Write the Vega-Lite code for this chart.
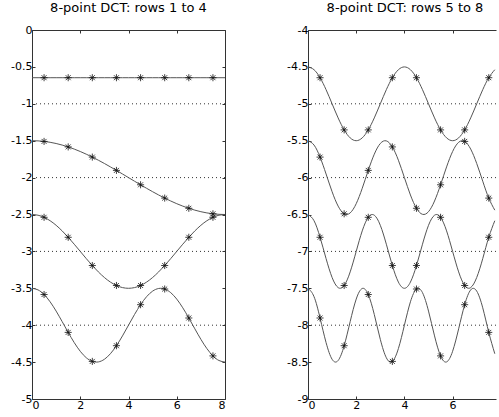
{
  "$schema": "https://vega.github.io/schema/vega-lite/v6.json",
  "autosize": {"type": "pad"},
  "padding": {"left": 10, "top": 1, "right": 0, "bottom": 0},
  "background": "white",
  "config": {
    "view": {"stroke": "#333333", "strokeWidth": 1},
    "font": "DejaVu Sans",
    "axis": {"labelFont": "DejaVu Sans", "labelFontSize": 11, "labelColor": "#000000", "domain": false, "domainColor": "#333333", "grid": false, "tickColor": "#333333", "tickSize": -3, "labelPadding": 3, "title": null, "minExtent": 0},
    "axisY": {"minExtent": 0},
    "axisX": {"minExtent": 0},
    "title": {"font": "DejaVu Sans", "fontSize": 13, "fontWeight": "normal", "color": "#000000", "offset": 9, "anchor": "middle", "frame": "group"},
    "concat": {"spacing": 83}
  },
  "bounds": "flush",
  "datasets": {
    "dct": [
      {"x": 0, "r1": -0.6464, "r2": -1.5, "r3": -2.5, "r4": -3.5, "r5": -4.5, "r6": -5.5, "r7": -6.5, "r8": -7.5},
      {"x": 0.25, "r1": -0.6464, "r2": -1.5024, "r3": -2.5096, "r4": -3.5215, "r5": -4.5381, "r6": -5.559, "r7": -6.5843, "r8": -7.6135},
      {"x": 0.5, "r1": -0.6464, "r2": -1.5096, "r3": -2.5381, "r4": -3.5843, "r5": -4.6464, "r6": -5.7222, "r7": -6.8087, "r8": -7.9025},
      {"x": 0.75, "r1": -0.6464, "r2": -1.5215, "r3": -2.5843, "r4": -3.6828, "r5": -4.8087, "r6": -5.951, "r7": -7.0975, "r8": -8.2357},
      {"x": 1, "r1": -0.6464, "r2": -1.5381, "r3": -2.6464, "r4": -3.8087, "r5": -5, "r6": -6.1913, "r7": -7.3536, "r8": -8.4619},
      {"x": 1.25, "r1": -0.6464, "r2": -1.559, "r3": -2.7222, "r4": -3.951, "r5": -5.1913, "r6": -6.3865, "r7": -7.4904, "r8": -8.4785},
      {"x": 1.5, "r1": -0.6464, "r2": -1.5843, "r3": -2.8087, "r4": -4.0975, "r5": -5.3536, "r6": -6.4904, "r7": -7.4619, "r8": -8.2778},
      {"x": 1.75, "r1": -0.6464, "r2": -1.6135, "r3": -2.9025, "r4": -4.2357, "r5": -5.4619, "r6": -6.4785, "r7": -7.2778, "r8": -7.951},
      {"x": 2, "r1": -0.6464, "r2": -1.6464, "r3": -3, "r4": -4.3536, "r5": -5.5, "r6": -6.3536, "r7": -7, "r8": -7.6464},
      {"x": 2.25, "r1": -0.6464, "r2": -1.6828, "r3": -3.0975, "r4": -4.441, "r5": -5.4619, "r6": -6.1451, "r7": -6.7222, "r8": -7.5024},
      {"x": 2.5, "r1": -0.6464, "r2": -1.7222, "r3": -3.1913, "r4": -4.4904, "r5": -5.3536, "r6": -5.9025, "r7": -6.5381, "r8": -7.5843},
      {"x": 2.75, "r1": -0.6464, "r2": -1.7643, "r3": -3.2778, "r4": -4.4976, "r5": -5.1913, "r6": -5.6828, "r7": -6.5096, "r8": -7.8549},
      {"x": 3, "r1": -0.6464, "r2": -1.8087, "r3": -3.3536, "r4": -4.4619, "r5": -5, "r6": -5.5381, "r7": -6.6464, "r8": -8.1913},
      {"x": 3.25, "r1": -0.6464, "r2": -1.8549, "r3": -3.4157, "r4": -4.3865, "r5": -4.8087, "r6": -5.5024, "r7": -6.9025, "r8": -8.441},
      {"x": 3.5, "r1": -0.6464, "r2": -1.9025, "r3": -3.4619, "r4": -4.2778, "r5": -4.6464, "r6": -5.5843, "r7": -7.1913, "r8": -8.4904},
      {"x": 3.75, "r1": -0.6464, "r2": -1.951, "r3": -3.4904, "r4": -4.1451, "r5": -4.5381, "r6": -5.7643, "r7": -7.4157, "r8": -8.3172},
      {"x": 4, "r1": -0.6464, "r2": -2, "r3": -3.5, "r4": -4, "r5": -4.5, "r6": -6, "r7": -7.5, "r8": -8},
      {"x": 4.25, "r1": -0.6464, "r2": -2.049, "r3": -3.4904, "r4": -3.8549, "r5": -4.5381, "r6": -6.2357, "r7": -7.4157, "r8": -7.6828},
      {"x": 4.5, "r1": -0.6464, "r2": -2.0975, "r3": -3.4619, "r4": -3.7222, "r5": -4.6464, "r6": -6.4157, "r7": -7.1913, "r8": -7.5096},
      {"x": 4.75, "r1": -0.6464, "r2": -2.1451, "r3": -3.4157, "r4": -3.6135, "r5": -4.8087, "r6": -6.4976, "r7": -6.9025, "r8": -7.559},
      {"x": 5, "r1": -0.6464, "r2": -2.1913, "r3": -3.3536, "r4": -3.5381, "r5": -5, "r6": -6.4619, "r7": -6.6464, "r8": -7.8087},
      {"x": 5.25, "r1": -0.6464, "r2": -2.2357, "r3": -3.2778, "r4": -3.5024, "r5": -5.1913, "r6": -6.3172, "r7": -6.5096, "r8": -8.1451},
      {"x": 5.5, "r1": -0.6464, "r2": -2.2778, "r3": -3.1913, "r4": -3.5096, "r5": -5.3536, "r6": -6.0975, "r7": -6.5381, "r8": -8.4157},
      {"x": 5.75, "r1": -0.6464, "r2": -2.3172, "r3": -3.0975, "r4": -3.559, "r5": -5.4619, "r6": -5.8549, "r7": -6.7222, "r8": -8.4976},
      {"x": 6, "r1": -0.6464, "r2": -2.3536, "r3": -3, "r4": -3.6464, "r5": -5.5, "r6": -5.6464, "r7": -7, "r8": -8.3536},
      {"x": 6.25, "r1": -0.6464, "r2": -2.3865, "r3": -2.9025, "r4": -3.7643, "r5": -5.4619, "r6": -5.5215, "r7": -7.2778, "r8": -8.049},
      {"x": 6.5, "r1": -0.6464, "r2": -2.4157, "r3": -2.8087, "r4": -3.9025, "r5": -5.3536, "r6": -5.5096, "r7": -7.4619, "r8": -7.7222},
      {"x": 6.75, "r1": -0.6464, "r2": -2.441, "r3": -2.7222, "r4": -4.049, "r5": -5.1913, "r6": -5.6135, "r7": -7.4904, "r8": -7.5215},
      {"x": 7, "r1": -0.6464, "r2": -2.4619, "r3": -2.6464, "r4": -4.1913, "r5": -5, "r6": -5.8087, "r7": -7.3536, "r8": -7.5381},
      {"x": 7.25, "r1": -0.6464, "r2": -2.4785, "r3": -2.5843, "r4": -4.3172, "r5": -4.8087, "r6": -6.049, "r7": -7.0975, "r8": -7.7643},
      {"x": 7.5, "r1": -0.6464, "r2": -2.4904, "r3": -2.5381, "r4": -4.4157, "r5": -4.6464, "r6": -6.2778, "r7": -6.8087, "r8": -8.0975},
      {"x": 7.75, "r1": -0.6464, "r2": -2.4976, "r3": -2.5096, "r4": -4.4785, "r5": -4.5381, "r6": -6.441, "r7": -6.5843, "r8": -8.3865},
      {"x": 8, "r1": -0.6464, "r2": -2.5, "r3": -2.5, "r4": -4.5, "r5": -4.5, "r6": -6.5, "r7": -6.5, "r8": -8.5}
    ],
    "gridL": [{"g": -1}, {"g": -2}, {"g": -3}, {"g": -4}],
    "gridR": [{"g": -5}, {"g": -6}, {"g": -7}, {"g": -8}]
  },
  "hconcat": [
    {
      "title": "8-point DCT: rows 1 to 4",
      "width": 193,
      "height": 369,
      "resolve": {"axis": {"x": "independent", "y": "independent"}},
      "layer": [
        {
          "data": {"name": "gridL"},
          "mark": {"type": "rule", "color": "#333333", "strokeWidth": 1, "strokeDash": [1, 3]},
          "encoding": {"y": {"field": "g", "type": "quantitative", "scale": {"domain": [-5, 0]}, "axis": null}}
        },
        {
          "data": {"name": "dct"},
          "transform": [{"fold": ["r1", "r2", "r3", "r4"], "as": ["row", "val"]}],
          "mark": {"type": "line", "interpolate": "natural", "color": "#555555", "strokeWidth": 1},
          "encoding": {
            "x": {"field": "x", "type": "quantitative", "scale": {"domain": [0, 8], "nice": false}, "axis": {"values": [0, 2, 4, 6, 8], "labelExpr": "'' + datum.value"}},
            "y": {"field": "val", "type": "quantitative", "scale": {"domain": [-5, 0], "nice": false}, "axis": {"values": [0, -0.5, -1, -1.5, -2, -2.5, -3, -3.5, -4, -4.5, -5], "labelExpr": "'' + datum.value"}},
            "detail": {"field": "row"}
          }
        },
        {
          "data": {"name": "dct"},
          "transform": [{"fold": ["r1", "r2", "r3", "r4"], "as": ["row", "val"]}, {"filter": "datum.x % 1 == 0.5"}],
          "mark": {"type": "point", "shape": "M-1,0L1,0M0,-1L0,1M-0.7,-0.7L0.7,0.7M-0.7,0.7L0.7,-0.7", "filled": false, "stroke": "#111111", "strokeWidth": 0.8, "size": 50, "opacity": 1},
          "encoding": {
            "x": {"field": "x", "type": "quantitative", "scale": {"domain": [0, 8], "nice": false}, "axis": {"orient": "top", "values": [0, 2, 4, 6, 8], "labels": false}},
            "y": {"field": "val", "type": "quantitative", "scale": {"domain": [-5, 0], "nice": false}, "axis": {"orient": "right", "values": [0, -0.5, -1, -1.5, -2, -2.5, -3, -3.5, -4, -4.5, -5], "labels": false}},
            "detail": {"field": "row"}
          }
        }
      ]
    },
    {
      "title": {"text": "8-point DCT: rows 5 to 8", "dx": 3},
      "width": 188,
      "height": 369,
      "view": {"stroke": null},
      "resolve": {"axis": {"x": "independent", "y": "independent"}},
      "layer": [
        {
          "data": {"name": "gridR"},
          "mark": {"type": "rule", "color": "#333333", "strokeWidth": 1, "strokeDash": [1, 3]},
          "encoding": {"y": {"field": "g", "type": "quantitative", "scale": {"domain": [-9, -4]}, "axis": null}}
        },
        {
          "data": {"name": "dct"},
          "transform": [{"filter": "datum.x <= 7.75"}, {"fold": ["r5", "r6", "r7", "r8"], "as": ["row", "val"]}],
          "mark": {"type": "line", "interpolate": "natural", "color": "#555555", "strokeWidth": 1},
          "encoding": {
            "x": {"field": "x", "type": "quantitative", "scale": {"domain": [0, 7.8], "nice": false}, "axis": {"values": [0, 2, 4, 6], "labelExpr": "'' + datum.value", "domain": true}},
            "y": {"field": "val", "type": "quantitative", "scale": {"domain": [-9, -4], "nice": false}, "axis": {"values": [-4, -4.5, -5, -5.5, -6, -6.5, -7, -7.5, -8, -8.5, -9], "labelExpr": "'' + datum.value", "domain": true}},
            "detail": {"field": "row"}
          }
        },
        {
          "data": {"name": "dct"},
          "transform": [{"filter": "datum.x <= 7.75"}, {"fold": ["r5", "r6", "r7", "r8"], "as": ["row", "val"]}, {"filter": "datum.x % 1 == 0.5"}],
          "mark": {"type": "point", "shape": "M-1,0L1,0M0,-1L0,1M-0.7,-0.7L0.7,0.7M-0.7,0.7L0.7,-0.7", "filled": false, "stroke": "#111111", "strokeWidth": 0.8, "size": 50, "opacity": 1},
          "encoding": {
            "x": {"field": "x", "type": "quantitative", "scale": {"domain": [0, 7.8], "nice": false}, "axis": {"orient": "top", "values": [0, 2, 4, 6], "labels": false, "domain": true}},
            "y": {"field": "val", "type": "quantitative", "scale": {"domain": [-9, -4], "nice": false}, "axis": null},
            "detail": {"field": "row"}
          }
        }
      ]
    }
  ]
}
